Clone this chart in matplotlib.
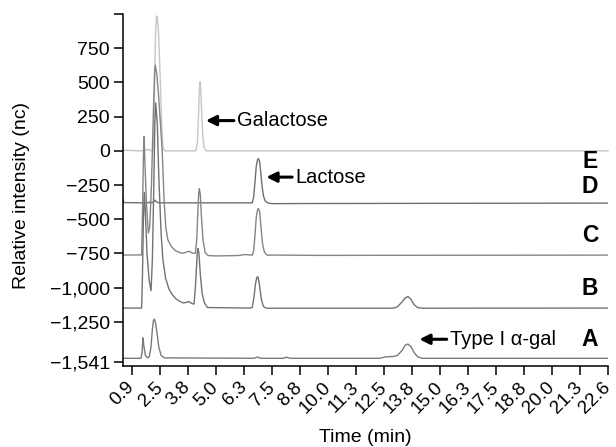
import matplotlib
matplotlib.use("Agg")
import matplotlib.pyplot as plt

plt.rcParams["font.family"] = ["Liberation Sans", "DejaVu Sans"]

# chromatogram traces: (time position, intensity)
t_E = [0.85, 0.88, 1.60, 1.78, 1.85, 1.92, 2.00, 2.08, 2.18, 2.22, 2.26, 2.30, 2.34, 2.38, 2.43, 2.48,
       2.53, 2.58, 2.63, 2.70, 4.10, 4.17, 4.22, 4.26, 4.29, 4.32, 4.36, 4.41, 4.47, 4.55, 22.5]
v_E = [30, 5, 0, 0, 12, 4, 12, 2, 0, 60, 450, 850, 985, 980, 880, 680,
       430, 180, 30, 0, 0, 60, 260, 450, 505, 450, 280, 110, 25, 0, 0]

t_D = [0.85, 0.88, 1.70, 2.00, 2.06, 2.12, 2.22, 2.27, 2.33, 2.45, 6.62, 6.68, 6.74, 6.80, 6.86,
       6.90, 6.95, 7.00, 7.06, 7.12, 7.20, 7.30, 7.50, 9.0, 22.5]
v_D = [-345, -378, -380, -380, -372, -380, -372, -360, -372, -380, -380, -340, -230, -110, -62,
       -58, -80, -160, -260, -330, -368, -380, -386, -385, -382]

t_C = [0.85, 1.68, 1.72, 1.76, 1.79, 1.83, 1.90, 1.98, 2.04, 2.12, 2.20, 2.26, 2.29, 2.36, 2.44,
       2.52, 2.60, 2.68, 2.76, 2.85, 3.02, 3.20, 3.40, 3.55, 3.70, 3.82, 3.95, 4.08, 4.14, 4.19,
       4.23, 4.26, 4.30, 4.35, 4.42, 4.52, 4.65, 5.0, 6.0, 6.3, 6.62, 6.68, 6.74, 6.80, 6.86,
       6.90, 6.95, 7.01, 7.08, 7.16, 7.28, 8.0, 9.5, 22.5]
v_C = [-761, -761, -450, -50, 104, -100, -400, -600, -560, -250, 250, 580, 626, 560, 400,
       200, 0, -350, -560, -650, -702, -730, -745, -748, -738, -735, -748, -748, -650, -450,
       -300, -277, -320, -480, -650, -745, -765, -768, -765, -758, -762, -735, -620, -480, -428,
       -422, -445, -560, -680, -740, -762, -762, -764, -762]

t_B = [0.85, 1.68, 1.72, 1.76, 1.80, 1.84, 1.92, 2.02, 2.10, 2.16, 2.22, 2.27, 2.31, 2.38, 2.45,
       2.55, 2.63, 2.75, 2.90, 3.04, 3.20, 3.39, 3.55, 3.70, 3.80, 3.92, 4.02, 4.08, 4.13, 4.17,
       4.20, 4.24, 4.30, 4.38, 4.48, 4.62, 6.50, 6.62, 6.70, 6.77, 6.83, 6.88, 6.95, 7.03, 7.12,
       7.25, 12.9, 13.1, 13.3, 13.45, 13.57, 13.7, 13.85, 14.0, 14.2, 22.5]
v_B = [-1149, -1149, -900, -500, -304, -420, -750, -950, -1022, -800, -300, 200, 350, 200, -200,
       -600, -794, -930, -1010, -1049, -1080, -1100, -1112, -1106, -1102, -1115, -1120, -1000, -850, -740,
       -714, -750, -900, -1040, -1110, -1145, -1149, -1144, -1065, -965, -922, -922, -990, -1090, -1138,
       -1150, -1150, -1140, -1105, -1075, -1065, -1085, -1125, -1145, -1150, -1149]

t_A = [0.85, 1.65, 1.70, 1.74, 1.78, 1.85, 1.95, 2.02, 2.10, 2.16, 2.21, 2.25, 2.30, 2.37, 2.45,
       2.55, 2.70, 6.70, 6.85, 7.00, 8.00, 8.15, 8.30, 12.3, 12.6, 12.9, 13.1, 13.3, 13.45, 13.57,
       13.7, 13.85, 14.0, 14.2, 22.5]
v_A = [-1516, -1516, -1475, -1366, -1425, -1495, -1513, -1505, -1435, -1305, -1240, -1230, -1255, -1335, -1435,
       -1495, -1513, -1516, -1507, -1516, -1516, -1508, -1516, -1516, -1505, -1503, -1495, -1460, -1420, -1412,
       -1430, -1475, -1505, -1516, -1516]

x_tick_labels = ["0.9", "2.5", "3.8", "5.0", "6.3", "7.5", "8.8", "10.0", "11.3", "12.5",
                 "13.8", "15.0", "16.3", "17.5", "18.8", "20.0", "21.3", "22.6"]
y_ticks = [1000, 750, 500, 250, 0, -250, -500, -750, -1000, -1250, -1541]
y_tick_labels = ["", "750", "500", "250", "0", "\u2212250", "\u2212500", "\u2212750",
                 "\u22121,000", "\u22121,250", "\u22121,541"]

trace_names = ["E", "D", "C", "B", "A"]
trace_label_y = [-80, -262, -620, -1005, -1376]

fig = plt.figure(figsize=(6.16, 4.47), dpi=100)
ax = fig.add_axes([0.1997, 0.181, 0.7873, 0.7877])

ax.plot(t_E, v_E, color="#c6c6c6", lw=1.0, clip_on=False)
ax.plot(t_D, v_D, color="#6f6f6f", lw=1.0)
ax.plot(t_C, v_C, color="#858585", lw=1.0)
ax.plot(t_B, v_B, color="#727272", lw=1.0)
ax.plot(t_A, v_A, color="#7a7a7a", lw=1.0)

for name, yy in zip(trace_names, trace_label_y):
    ax.text(21.7, yy, name, fontsize=16.5, fontweight="bold", ha="center", va="center")

# peak annotations
arrow = dict(arrowstyle="-|>", color="black", lw=2.2, mutation_scale=15, shrinkA=0, shrinkB=0)
ax.annotate("", xy=(4.55, 221), xytext=(5.80, 221), arrowprops=arrow)
ax.text(5.95, 221, "Galactose", fontsize=14.5, va="center", ha="left")
ax.annotate("", xy=(7.25, -192), xytext=(8.40, -192), arrowprops=arrow)
ax.text(8.55, -192, "Lactose", fontsize=14.5, va="center", ha="left")
ax.annotate("", xy=(14.08, -1377), xytext=(15.30, -1377), arrowprops=arrow)
ax.text(15.45, -1377, "Type I \u03b1-gal", fontsize=14.5, va="center", ha="left")

ax.set_xlim(0.85, 22.5)
ax.set_ylim(-1573, 1000)
ax.set_xticks([1.25 * (i + 1) for i in range(len(x_tick_labels))])
ax.set_xticklabels(x_tick_labels, rotation=45, ha="right", va="center",
                   rotation_mode="anchor", fontsize=13.5)
ax.set_yticks(y_ticks)
ax.set_yticklabels(y_tick_labels, fontsize=14)
ax.tick_params(direction="out", length=6.5, width=1.1, pad=3)
ax.tick_params(axis="x", pad=7)

for s in ["top", "right"]:
    ax.spines[s].set_visible(False)
for s in ["left", "bottom"]:
    ax.spines[s].set_linewidth(1.1)

ax.set_xlabel("Time (min)", fontsize=14)
ax.xaxis.set_label_coords(0.5, -0.18)
ax.set_ylabel("Relative intensity (nc)", fontsize=14)
ax.yaxis.set_label_coords(-0.192, 0.485)

fig.savefig("out.png", dpi=100)
